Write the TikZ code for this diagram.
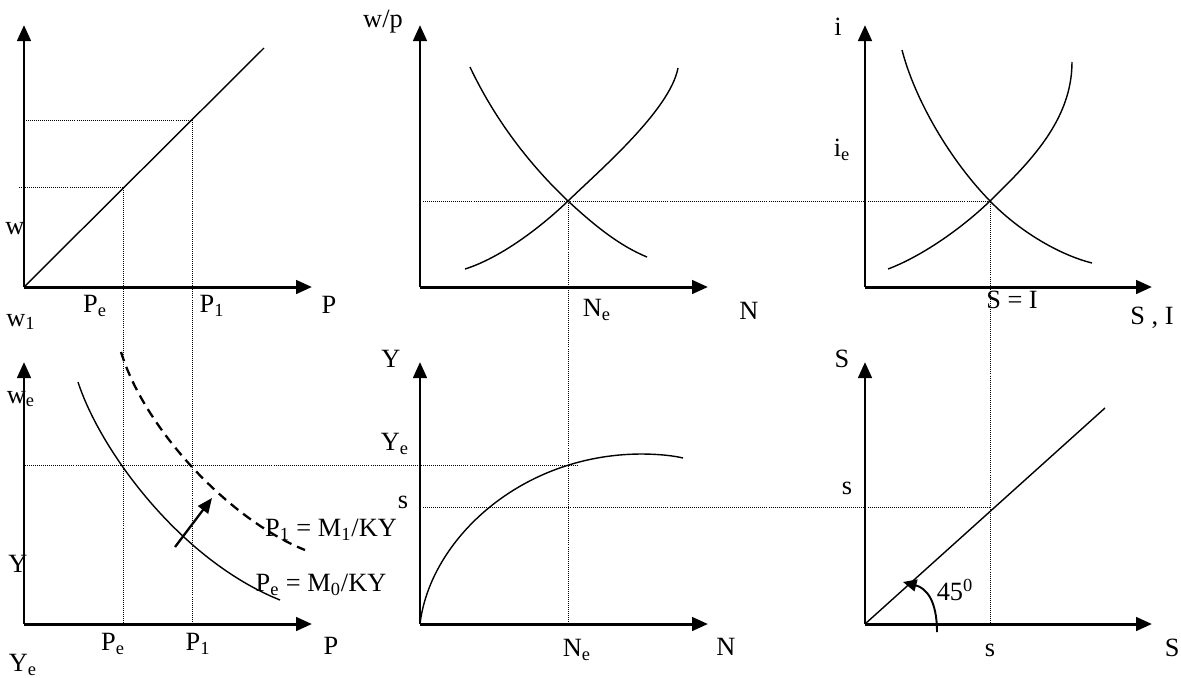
\documentclass[tikz,border=0pt]{standalone}
\usepackage{fontspec}
\setmainfont{Liberation Serif}
\usetikzlibrary{arrows.meta}
\tikzset{
  axis/.style={line width=1.7pt, -{Triangle[length=0.32cm,width=0.27cm]}},
  curve/.style={line width=0.8pt},
  guide/.style={line width=0.55pt, dash pattern=on 0.55pt off 0.6pt},
  shifted/.style={line width=1.3pt, dash pattern=on 5.5pt off 3.5pt},
  lbl/.style={inner sep=0pt, font=\fontsize{15}{18}\selectfont}
}
\newcommand{\sub}[1]{\textsubscript{#1}}

\begin{document}
\begin{tikzpicture}[x=0.02cm, y=-0.02cm]
  \useasboundingbox (0,0) rectangle (1181,677);
  % axes of the six panels
  \coordinate (oA) at (24,287);  \coordinate (xA) at (312,287);  \coordinate (yA) at (24,25);
  \coordinate (oB) at (420,287); \coordinate (xB) at (708,287);  \coordinate (yB) at (420,25);
  \coordinate (oC) at (865,287); \coordinate (xC) at (1152,287); \coordinate (yC) at (865,25);
  \coordinate (oD) at (24,624);  \coordinate (xD) at (312,624);  \coordinate (yD) at (24,362);
  \coordinate (oE) at (420,624); \coordinate (xE) at (708,624);  \coordinate (yE) at (420,362);
  \coordinate (oF) at (865,624); \coordinate (xF) at (1152,624); \coordinate (yF) at (865,362);
  \foreach \p in {A,B,C,D,E,F} {
    \draw[axis] (o\p) -- (x\p);
    \draw[axis] (o\p) -- (y\p);
  }

  % equilibrium points
  \coordinate (pe) at (123,187);  \coordinate (p1) at (192,120);
  \coordinate (ne) at (568,201);  \coordinate (ie) at (990,201);
  \coordinate (ye) at (568,465);  \coordinate (ss) at (990,507);
  \coordinate (peD) at (123,624); \coordinate (p1D) at (192,624);
  \coordinate (neE) at (568,624); \coordinate (sF) at (990,624);

  % dotted guides
  \draw[guide] (19,187) -- (pe) -- (peD);
  \draw[guide] (26,120) -- (p1) -- (p1D);
  \draw[guide] (423,201) -- (ie) -- (sF);
  \draw[guide] (ne) -- (neE);
  \draw[guide] (25,465) -- (577,465);
  \draw[guide] (423,507) -- (ss);

  % top left: w = P
  \draw[curve] (oA) -- (264,48);
  % top middle: labour market
  \draw[curve] (470,67) .. controls (495,120) and (530,165) .. (ne)
                        .. controls (595,226) and (620,246) .. (647,257);
  \draw[curve] (465,269) .. controls (500,258) and (540,228) .. (ne)
                         .. controls (600,170) and (670,110) .. (678,68);
  % top right: S = I
  \draw[curve] (902,50) .. controls (915,100) and (950,160) .. (ie)
                        .. controls (1020,232) and (1060,255) .. (1092,263);
  \draw[curve] (888,269) .. controls (920,257) and (960,230) .. (ie)
                         .. controls (1030,162) and (1072,120) .. (1072,62);
  % bottom left: quantity theory
  \draw[curve] (78,382) .. controls (100,450) and (180,560) .. (280,600);
  \draw[shifted] (121,352) .. controls (145,430) and (230,520) .. (305,550);
  \coordinate (sh0) at (175,547); \coordinate (sh1) at (212,498);
  \draw[line width=1.3pt, -{Triangle[length=0.3cm,width=0.25cm]}] (sh0) -- (sh1);
  % bottom middle: production function
  \draw[curve] (oE) .. controls (430,540) and (520,455) .. (640,454)
                    .. controls (660,454) and (675,456) .. (683,458);
  % bottom right: 45 degree line
  \draw[curve] (oF) -- (1105,408);
  \coordinate (ang0) at (937,632); \coordinate (ang1) at (903,582);
  \draw[line width=1.1pt, -{Triangle[length=0.27cm,width=0.24cm]}]
    (ang0) .. controls (937,600) and (926,588) .. (ang1);

  % labels
  \node[lbl] (lw)    at (15,229)  {w};
  \node[lbl] (lw1)   at (21,322)  {w\sub{1}};
  \node[lbl] (lPeA)  at (95,306)  {P\sub{e}};
  \node[lbl] (lP1A)  at (212,306) {P\sub{1}};
  \node[lbl] (lPA)   at (329,305) {P};
  \node[lbl] (lwp)   at (383,22)  {w/p};
  \node[lbl] (lNeB)  at (597,310) {N\sub{e}};
  \node[lbl] (lNB)   at (749,311) {N};
  \node[lbl] (li)    at (838,27)  {i};
  \node[lbl] (lie)   at (842,150) {i\sub{e}};
  \node[lbl] (lSI)   at (1012,300) {S = I};
  \node[lbl] (lSIax) at (1152,318) {S , I};
  \node[lbl] (lwe)   at (21,399)  {w\sub{e}};
  \node[lbl] (lY)    at (18,564)  {Y};
  \node[lbl] (lYe)   at (23,665)  {Y\sub{e}};
  \node[lbl] (lPeD)  at (113,644) {P\sub{e}};
  \node[lbl] (lP1D)  at (198,644) {P\sub{1}};
  \node[lbl] (lPD)   at (331,646) {P};
  \node[lbl] (lM1)   at (331,530) {P\sub{1} = M\sub{1}/KY};
  \node[lbl] (lM0)   at (321,585) {P\sub{e} = M\sub{0}/KY};
  \node[lbl] (lYE)   at (391,359) {Y};
  \node[lbl] (lYeE)  at (395,444) {Y\sub{e}};
  \node[lbl] (lsE)   at (403,502) {s};
  \node[lbl] (lNeE)  at (577,650) {N\sub{e}};
  \node[lbl] (lNE)   at (726,647) {N};
  \node[lbl] (lSF)   at (842,359) {S};
  \node[lbl] (lsF)   at (847,488) {s};
  \node[lbl] (lsxF)  at (990,650) {s};
  \node[lbl, anchor=east] (lSxF) at (1180,648) {S};
  \node[lbl] (l45)   at (955,590) {45\textsuperscript{0}};
\end{tikzpicture}
\end{document}
